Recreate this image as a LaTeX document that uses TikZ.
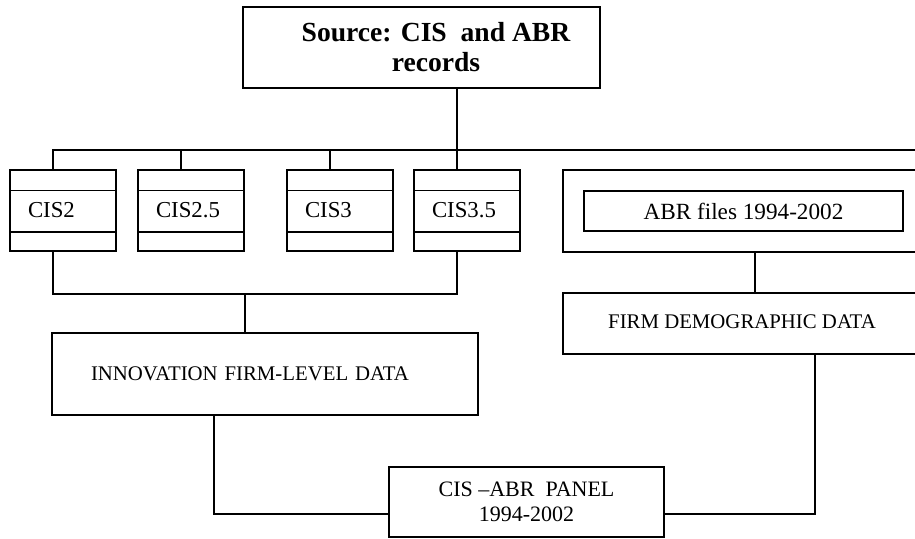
\documentclass[tikz,border=0pt]{standalone}
\usepackage{fontspec}
\setmainfont{Liberation Serif}
\begin{document}
\begin{tikzpicture}[x=1pt,y=-1pt,line width=1.5pt,
  box/.style={draw,rectangle,inner sep=0pt},
  cisbox/.style={box,minimum width=106pt,minimum height=81pt,text width=70pt,inner xsep=18pt,align=left,font=\fontsize{22.8}{26}\selectfont},
  capsfont/.style={font=\fontsize{20.8}{24}\selectfont}]
\useasboundingbox (0,0) rectangle (915,538);
\begin{scope}
\clip (0,0) rectangle (915,538);
% source box
\node[box,minimum width=357pt,minimum height=81pt] (src) at (421.5,47.5) {};
\node[align=center,inner sep=0pt,font=\bfseries\fontsize{27.6}{30}\selectfont] (srct) at (436,47) {Source: CIS\ \ and ABR\\records};
% CIS boxes
\node[cisbox] (c2) at (63,210.5) {CIS2};
\node[cisbox] (c25) at (191,210.5) {CIS2.5};
\node[cisbox] (c3) at (340,210.5) {CIS3};
\node[cisbox] (c35) at (467,210.5) {CIS3.5};
\foreach \n in {c2,c25,c3,c35}{
  \draw ([yshift=-21pt]\n.north west) -- ([yshift=-21pt]\n.north east);
  \draw ([yshift=20pt]\n.south west) -- ([yshift=20pt]\n.south east);
}
% ABR boxes
\node[box,minimum width=358pt,minimum height=82pt] (abro) at (742,211) {};
\node[box,minimum width=319pt,minimum height=40pt,font=\fontsize{23.2}{26}\selectfont] (abri) at (743.5,211) {ABR files 1994-2002};
\node[box,minimum width=358pt,minimum height=61pt,capsfont] (firm) at (742,323.5) {\raisebox{4pt}{FIRM DEMOGRAPHIC DATA}};
% innovation
\node[box,minimum width=426pt,minimum height=82pt,text width=348pt,inner xsep=39pt,align=left,capsfont] (innov) at (265,374) {INNOVATION FIRM-LEVEL DATA};
% panel
\node[box,minimum width=275pt,minimum height=70pt,align=center,font=\fontsize{22}{25}\selectfont] (panel) at (526.5,502) {CIS --ABR\ \ PANEL\\1994-2002};
% connectors
\coordinate (busR) at (930,150);
\draw ([xshift=35.5pt]src.south) -- ([xshift=-10pt]c35.north);
\draw ([xshift=-10pt]c2.north) |- (busR);
\draw ([xshift=-10pt]c25.north) -- ([xshift=-10pt]c25.north |- busR);
\draw ([xshift=-10pt]c3.north) -- ([xshift=-10pt]c3.north |- busR);
\draw ([xshift=-10pt]c2.south) -- ++(0,42) coordinate (cb) -| ([xshift=-10pt]c35.south);
\draw ([xshift=-20pt]innov.north) -- ([xshift=-20pt]innov.north |- cb);
\draw ([xshift=-51pt]innov.south) |- ([yshift=-12pt]panel.west);
\draw ([yshift=-12pt]panel.east) -| ([xshift=73pt]firm.south);
\draw ([xshift=13pt]abro.south) -- ([xshift=13pt]abro.south |- firm.north);
\end{scope}
\end{tikzpicture}
\end{document}
